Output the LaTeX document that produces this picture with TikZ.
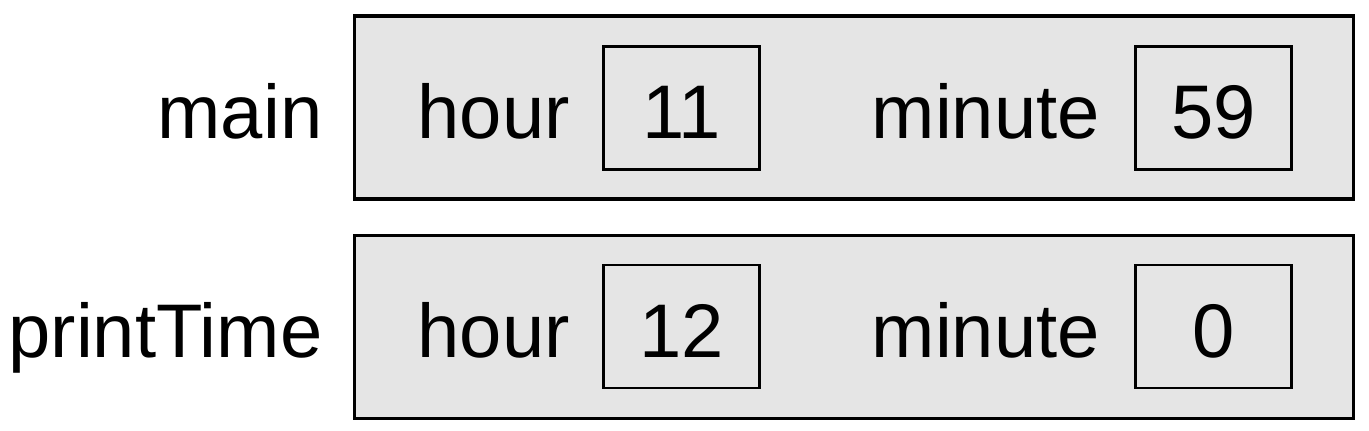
\documentclass[tikz,border=0pt]{standalone}
\usepackage{fontspec}
\setmainfont{Liberation Sans}
\usepackage{tikz}
\usetikzlibrary{positioning}

\tikzset{
  bigtext/.style={font=\fontsize{38}{45}\selectfont, text height=31pt, text depth=0pt},
  stackframe/.style={draw, line width=1.7pt, fill=gray!20, inner sep=0pt,
    minimum width=499.5pt, minimum height=91.5pt},
  valbox/.style={draw, line width=1.3pt, fill=gray!20, inner sep=0pt,
    minimum width=78pt, minimum height=61.5pt, bigtext},
  varname/.style={inner sep=0pt, bigtext}
}

\begin{document}
\begin{tikzpicture}[x=0.5pt, y=-0.5pt]
    \useasboundingbox (0,0) rectangle (1369,431);

    % main
    \node[stackframe] (frameMain) at (854,107.5) {};
    \node[varname, left=15pt of frameMain] (mainName) {main};
    \node[valbox] (hourMain) at (681.5,108) {11};
    \node[varname, left=16pt of hourMain] (hourMainName) {hour};
    \node[valbox] (minuteMain) at (1213.5,108) {59};
    \node[varname, left=17pt of minuteMain] (minuteMainName) {minute};

    % printTime
    \node[stackframe] (framePrint) at (854,327) {};
    \node[varname, left=15pt of framePrint] (printName) {printTime};
    \node[valbox] (hourPrint) at (681.5,326.5) {12};
    \node[varname, left=16pt of hourPrint] (hourPrintName) {hour};
    \node[valbox] (minutePrint) at (1213.5,326.5) {0};
    \node[varname, left=17pt of minutePrint] (minutePrintName) {minute};
\end{tikzpicture}
\end{document}
